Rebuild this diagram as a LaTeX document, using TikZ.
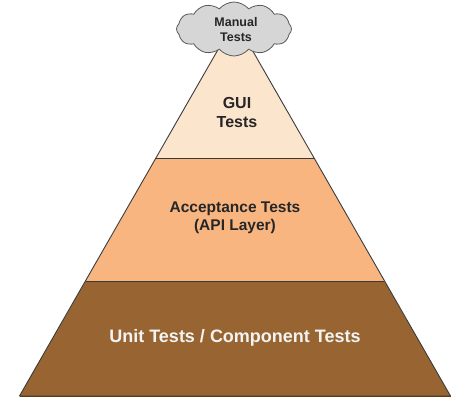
\documentclass[tikz,border=0pt]{standalone}
\usepackage{fontspec}
\setmainfont{Liberation Sans}
\usetikzlibrary{shapes.symbols}
\definecolor{guifill}{HTML}{FCE5CD}
\definecolor{accfill}{HTML}{F8B580}
\definecolor{unitfill}{HTML}{986532}
\definecolor{edge}{HTML}{3A3A3A}
\definecolor{cloudfill}{HTML}{D6D6D6}
\definecolor{unittext}{HTML}{F3F3F3}
\tikzset{
  layer/.style={draw=edge, line width=0.9pt, line join=round},
  lbl/.style={font=\bfseries, align=center, text=black!85},
}
\begin{document}
\begin{tikzpicture}[x=1pt,y=-1pt]
\useasboundingbox (0,0) rectangle (452,398);
% geometry: apex (235,20), half-width = 0.5731*(y-20)
\coordinate (apex) at (235,20);
\coordinate (gl) at (156.2,158);
\coordinate (gr) at (313.8,158);
\coordinate (al) at (85.7,281);
\coordinate (ar) at (384.3,281);
\coordinate (bl) at (19.5,396);
\coordinate (br) at (450.5,396);
\fill[unitfill] (al) -- (ar) -- (br) -- (bl) -- cycle;
\fill[accfill] (gl) -- (gr) -- (ar) -- (al) -- cycle;
\fill[guifill] (apex) -- (gr) -- (gl) -- cycle;
\draw[layer] (apex) -- (bl) -- (br) -- cycle;
\draw[layer] (gl) -- (gr);
\draw[layer] (al) -- (ar);
\draw[draw=unitfill!60!black, line width=1pt] (bl) -- (br);
\node[cloud, cloud puffs=12, cloud puff arc=100, aspect=2.2, draw=black!65, fill=cloudfill,
      line width=0.8pt, minimum width=115pt, minimum height=54pt, inner sep=0pt] (manual) at (234,29) {};
\node[lbl, font=\bfseries\fontsize{12.5}{15}\selectfont] (manualt) at (236,29.5) {Manual\\Tests};
\node[lbl, font=\bfseries\fontsize{16}{19}\selectfont] (gui) at (237,112) {GUI\\Tests};
\node[lbl, font=\bfseries\fontsize{15.5}{18.5}\selectfont] (acc) at (235,218) {Acceptance Tests\\(API Layer)};
\node[lbl, text=unittext, font=\bfseries\fontsize{18}{22}\selectfont] (unit) at (235,338) {Unit Tests / Component Tests};
\end{tikzpicture}
\end{document}
